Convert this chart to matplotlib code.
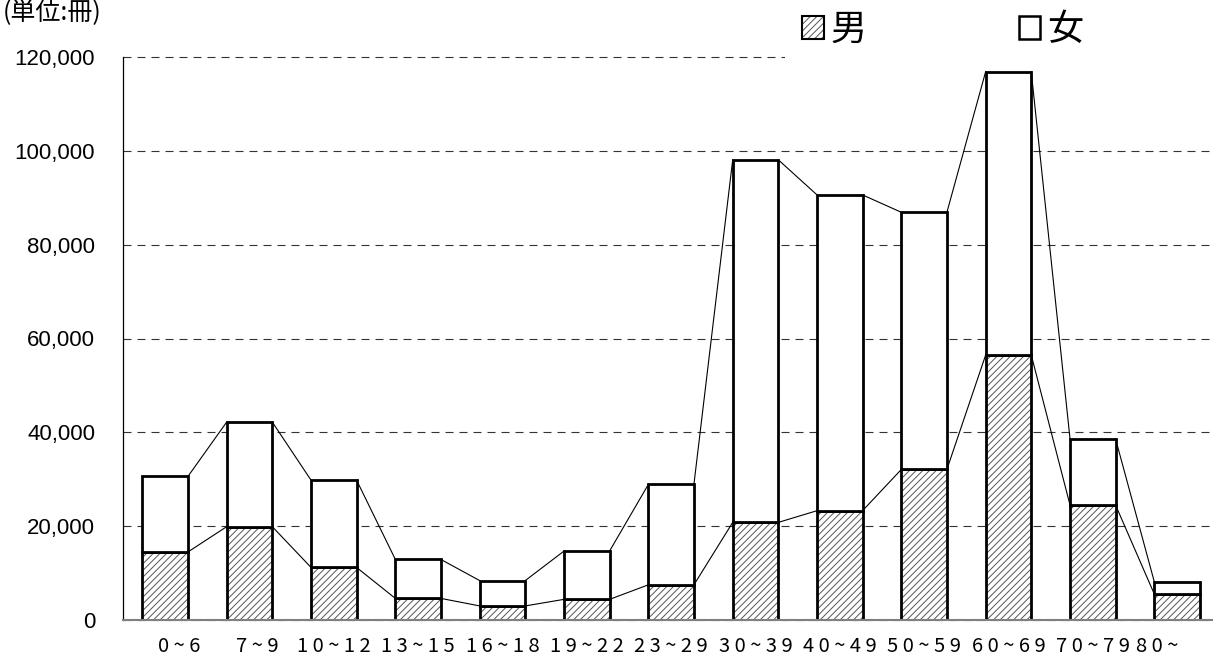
import numpy as np
import matplotlib
matplotlib.use('Agg')
import matplotlib.pyplot as plt
import matplotlib.transforms as mtrans
from matplotlib.patches import Patch, Rectangle
from matplotlib.legend_handler import HandlerTuple
from matplotlib.ticker import StrMethodFormatter
#====================1======================
#               data  (books, by age group)
#===========================================
a_age  = ['0 ~ 6', '7 ~ 9', '1 0 ~ 1 2', '1 3 ~ 1 5', '1 6 ~ 1 8', '1 9 ~ 2 2',
          '2 3 ~ 2 9', '3 0 ~ 3 9', '4 0 ~ 4 9', '5 0 ~ 5 9', '6 0 ~ 6 9',
          '7 0 ~ 7 9', '8 0 ~']
a_male   = [14500, 19900, 11200, 4600, 3000, 4400, 7500,
            20800, 23300, 32100, 56500, 24500, 5500]
a_female = [16100, 22300, 18600, 8300, 5400, 10300, 21400,
            77300, 67300, 54800, 60400, 14100, 2600]
a_yticks = [0, 20000, 40000, 60000, 80000, 100000, 120000]
unit_txt = '(単位:冊)'
lab_m, lab_f = '男', '女'

#====================2======================
#               style
#===========================================
W, H, dpi = 1213, 657, 100
bw   = 0.54     # bar width
elw  = 2.0      # bar edge width
# horizontal nudge of the age labels, in px (the source is not centred on the short ones)
a_xoff = [14.5, 7.5, 0, 0, 0, 0, 0, 0, 0, 0, 0, 0, -20]
plt.rcParams['hatch.linewidth'] = 0.7
cjk  = ['Noto Sans CJK JP', 'DejaVu Sans']

fig = plt.figure(figsize=(W/dpi, H/dpi), dpi=dpi)
ax  = fig.add_axes([123/W, 1-620/H, 1-123/W, (620-57)/H])

x   = np.arange(len(a_age))
a_m = np.array(a_male)
a_t = a_m + np.array(a_female)

#====================3======================
#               bars + series lines
#===========================================
ax.bar(x, a_m, bw, color='white', edgecolor='#555555', hatch='/////', lw=0, zorder=2)
ax.bar(x, a_m, bw, color='none', edgecolor='black', lw=elw, zorder=3)
ax.bar(x, a_female, bw, bottom=a_m, color='white', edgecolor='black', lw=elw, zorder=3)
for i in range(len(x)-1):
    for a_v in (a_m, a_t):
        ax.plot([x[i]+bw/2, x[i+1]-bw/2], [a_v[i], a_v[i+1]], color='black', lw=0.8, zorder=1.5)

#====================4======================
#               axes, grid, labels
#===========================================
ax.set_xlim(-0.5, -0.5 + (W-123)/84.33)
ax.set_ylim(0, a_yticks[-1])
ax.set_yticks(a_yticks)
ax.yaxis.set_major_formatter(StrMethodFormatter('{x:,.0f}'))
ax.set_xticks(x)
ax.set_xticklabels([])
# age labels as texts under each bar (tick labels reset their transform on draw)
trans_x = ax.get_xaxis_transform()
for xi, lab, dx in zip(x, a_age, a_xoff):
    off = mtrans.ScaledTranslation(dx/dpi, -27/dpi, fig.dpi_scale_trans)
    ax.text(xi, 0, lab, transform=trans_x + off, ha='center', va='center',
            family=cjk, fontsize=14.5, clip_on=False)
for t in ax.get_yticklabels():
    t.set_family('Liberation Sans')
    t.set_fontsize(16)
ax.tick_params(axis='y', length=0, pad=20)
ax.tick_params(axis='x', length=0)
ax.set_axisbelow(True)
ax.yaxis.grid(True, color='#333333', lw=0.8, ls=(0, (7.2, 5.4)))
for l in ax.get_ygridlines():
    l.set_clip_on(False)
for s in ('top', 'right'):
    ax.spines[s].set_visible(False)
ax.spines['left'].set_linewidth(0.9)
ax.spines['bottom'].set_color('#808080')
ax.spines['bottom'].set_linewidth(1.5)
ax.spines['bottom'].set_zorder(4)

# white area behind the legend hides the top grid line
ax.add_patch(Rectangle((0.607, 0.975), 0.5, 0.1, transform=ax.transAxes,
                       fc='white', ec='none', zorder=1, clip_on=False))

h_m = (Patch(fc='white', ec='#555555', hatch='/////', lw=0),
       Patch(fc='none', ec='black', lw=1.5))
h_f = Patch(fc='white', ec='black', lw=1.8)
ax.legend([h_m, h_f], [lab_m, lab_f], ncol=2, loc='center left',
          bbox_to_anchor=(802/W, 1-30/H), bbox_transform=fig.transFigure,
          frameon=False, borderpad=0, borderaxespad=0, prop={'family': cjk, 'size': 26},
          handlelength=0.6, handleheight=0.6, handletextpad=0.2,
          columnspacing=4.2, handler_map={tuple: HandlerTuple(ndivide=1)})

fig.text(3/W, 1-12/H, unit_txt, ha='left', va='center', family=cjk, fontsize=18)

fig.savefig('out.png', dpi=dpi)
